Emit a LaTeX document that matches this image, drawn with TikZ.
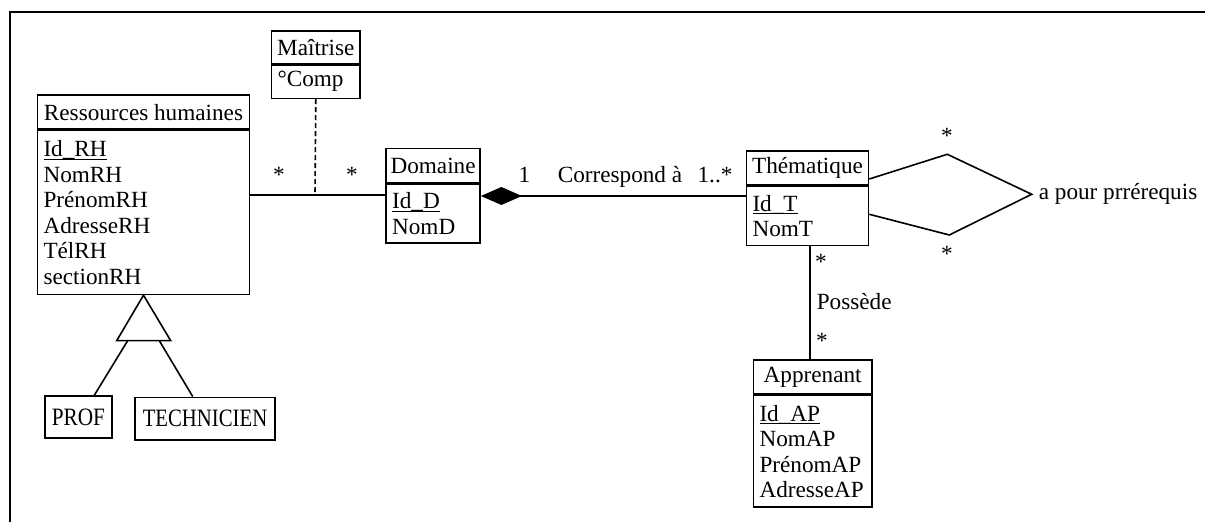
\documentclass[tikz,border=0pt]{standalone}
\usepackage{fontspec}
\setmainfont{Liberation Serif}
\usetikzlibrary{arrows.meta}
\newcommand\idkey[1]{\underline{\raisebox{0pt}[\height][0pt]{#1}}}
\tikzset{
  clshead/.style={draw, anchor=north west, inner sep=0pt, minimum height=17pt, minimum width=#1},
  clsbody/.style={draw, anchor=north west, align=left, inner xsep=3pt, inner ysep=0pt, text width=#1},
  leaf/.style={draw, inner sep=0pt, font=\fontsize{12.5}{14}\selectfont},
  lbl/.style={inner sep=0pt, anchor=base},
}
\begin{document}
\begin{tikzpicture}[x=0.5pt, y=-0.5pt, line width=0.8pt, font=\fontsize{11.6}{12.75}\selectfont]
\useasboundingbox (0,0) rectangle (1205,522);
\draw (10,522) -- (10,12) -- (1205,12);

\node[clshead=106pt] (rhH) at (36.7,94.3) {Ressources humaines};
\node[clsbody=100pt, minimum height=81.85pt] (rh) at (rhH.south west) {\idkey{Id\_RH}\\NomRH\\PrénomRH\\AdresseRH\\TélRH\\sectionRH};
\node[clshead=44.3pt, minimum height=16.35pt] (mtH) at (270.7,30) {Maîtrise};
\node[clsbody=38.3pt, minimum height=16.65pt] (mt) at (mtH.south west) {°Comp};
\node[clshead=47pt] (doH) at (385.3,147.7) {Domaine};
\node[clsbody=41pt, minimum height=29.5pt] (do) at (doH.south west) {\idkey{Id\_D}\\NomD};
\node[clshead=61pt] (thH) at (745.7,150) {Thématique};
\node[clsbody=55pt, minimum height=29.5pt] (th) at (thH.south west) {\idkey{Id\_T}\\NomT};
\node[clshead=59.15pt] (apH) at (752.7,359.3) {Apprenant};
\node[clsbody=53.15pt, minimum height=55.7pt] (ap) at (apH.south west) {\idkey{Id\_AP}\\NomAP\\PrénomAP\\AdresseAP};
\node[leaf, minimum width=33.35pt, minimum height=20.85pt] (prof) at (78.4,416.9) {\scalebox{0.85}[1]{PROF}};
\node[leaf, minimum width=70pt, minimum height=21.35pt] (tech) at (205,418.7) {\scalebox{0.83}[1]{TECHNICIEN}};

\coordinate (m) at (315,195);
\draw (m -| rh.east) -- (m -| do.west);
\draw[dash pattern=on 2.5pt off 1.5pt] (mt.south) -- (m);
\node[lbl] (s1) at (279,183) {*};
\node[lbl] (s2) at (352,183) {*};

\coordinate (c) at (620,196);
\draw[{Diamond[length=20.5pt,width=9pt]}-] (c -| do.east) -- (c -| th.west);
\node[lbl] (s3) at (524.5,183) {1};
\node[lbl] (cor) at (620,183) {Correspond à};
\node[lbl] (s4) at (715,183) {1..*};

\coordinate (rt) at (947.3,154.3);
\coordinate (rr) at (1031.7,194.3);
\coordinate (rb) at (949.3,235);
\draw (thH.east |- 0,179) -- (rt) -- (rr) -- (rb) -- (th.east |- 0,214.3);
\node[lbl, anchor=base west] (pr) at (1038,200) {a pour prrérequis};
\node[lbl] (s5) at (947,144) {*};
\node[lbl] (s6) at (947,262) {*};

\coordinate (p) at (810,300);
\draw (p |- th.south) -- (p |- apH.north);
\node[lbl] (s7) at (821,270) {*};
\node[lbl, anchor=base west] (ps) at (816,310) {Possède};
\node[lbl] (s8) at (822,349) {*};

\coordinate (gl) at (116.7,340.7);
\coordinate (gr) at (170.7,340.7);
\draw (rh.south) -- (gl) -- (gr) -- cycle;
\coordinate (g1) at (127.7,340.7);
\coordinate (g2) at (159.3,340.7);
\draw (g1) -- ([xshift=7.95pt]prof.north);
\draw (g2) -- ([xshift=-6.15pt]tech.north);
\end{tikzpicture}
\end{document}
